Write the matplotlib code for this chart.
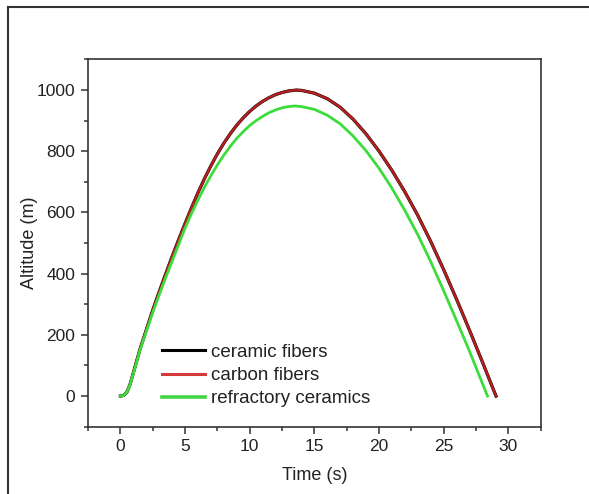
import matplotlib.pyplot as plt
from matplotlib.lines import Line2D
from matplotlib.ticker import MultipleLocator

plt.rcParams['font.family'] = ['Liberation Sans', 'DejaVu Sans']

# values
t_ascent = [0, 0.25, 0.5, 0.75, 1, 1.5, 2, 2.5, 3, 3.5, 4, 4.5, 5, 5.5, 6, 6.5,
            7, 7.5, 8, 8.5, 9, 9.5, 10, 10.5, 11, 11.5, 12, 12.5, 13, 13.6]
carbon_ascent = [0, 2, 12, 38, 75, 150, 215, 280, 340, 398, 455, 510, 563, 615, 664, 710,
                 752, 791, 826, 857, 885, 909, 930, 948, 963, 975, 985, 992, 997, 1000]
t_carbon_desc = [14, 15, 16, 17, 18, 19, 20, 21, 22, 23, 24, 25, 26, 27, 28, 29, 29.06]
carbon_desc = [999, 990, 972, 944, 905, 857, 801, 738, 668, 591, 506, 414, 317, 216, 112, 6, 0]

t_green_ascent = [0, 0.25, 0.5, 0.75, 1, 1.5, 2, 2.5, 3, 3.5, 4, 4.5, 5, 5.5, 6, 6.5,
                  7, 7.5, 8, 8.5, 9, 9.5, 10, 10.5, 11, 11.5, 12, 12.5, 13, 13.5]
refractory_ascent = [0, 2, 12, 37, 73, 147, 210, 272, 330, 386, 440, 494, 548, 596, 640, 682,
                     720, 755, 787, 816, 842, 864, 884, 900, 914, 926, 935, 942, 946, 948]
t_green_desc = [14, 15, 16, 17, 18, 19, 20, 21, 22, 23, 24, 25, 26, 27, 28, 28.4]
refractory_desc = [946, 937, 918, 890, 850, 802, 745, 680, 607, 528, 440, 345, 247, 147, 42, 0]

t_carbon = t_ascent + t_carbon_desc
carbon = carbon_ascent + carbon_desc
ceramic = list(carbon)  # ceramic fibers curve lies under the carbon fibers curve
t_refractory = t_green_ascent + t_green_desc
refractory = refractory_ascent + refractory_desc

labels = ['ceramic fibers', 'carbon fibers', 'refractory ceramics']

fig = plt.figure(figsize=(5.89, 4.94), dpi=100)
ax = fig.add_axes([0.1494, 0.1363, 0.7683, 0.7433])

ax.plot(t_carbon, ceramic, color='black', lw=2.3)
ax.plot(t_carbon, carbon, color='#b3201f', lw=1.8)
ax.plot(t_refractory, refractory, color='#3ddc3d', lw=2.0)

ax.set_xlim(-2.5, 32.5)
ax.set_ylim(-100, 1100)
ax.xaxis.set_major_locator(MultipleLocator(5))
ax.xaxis.set_minor_locator(MultipleLocator(2.5))
ax.yaxis.set_major_locator(MultipleLocator(200))
ax.yaxis.set_minor_locator(MultipleLocator(100))
ax.tick_params(which='both', direction='out', colors='#333333', labelcolor='#222222',
               labelsize=12.5, width=1.1)
ax.tick_params(which='major', length=5, pad=4)
ax.tick_params(which='minor', length=3)
for s in ax.spines.values():
    s.set_color('#333333')
    s.set_linewidth(1.2)

ax.set_xlabel('Time (s)', fontsize=13, color='#222222', labelpad=9)
ax.set_ylabel('Altitude (m)', fontsize=13, color='#222222', labelpad=-1)

leg_handles = [Line2D([], [], color='black', lw=2.2),
               Line2D([], [], color='#d43a3a', lw=2.2),
               Line2D([], [], color='#44d444', lw=2.6)]
ax.legend(leg_handles, labels,
          loc='lower left', bbox_to_anchor=(0.163, 0.053), frameon=False,
          borderpad=0, borderaxespad=0,
          fontsize=13.5, handlelength=2.3, handletextpad=0.3, labelspacing=0.32,
          labelcolor='#222222')

# frame of the original figure (top and left edges only visible)
fig.add_artist(Line2D([8 / 589, 1], [1 - 7 / 494, 1 - 7 / 494], transform=fig.transFigure,
                      color='#333333', lw=1.5))
fig.add_artist(Line2D([8 / 589, 8 / 589], [0, 1 - 7 / 494], transform=fig.transFigure,
                      color='#333333', lw=1.5))

fig.savefig('out.png', dpi=100)
